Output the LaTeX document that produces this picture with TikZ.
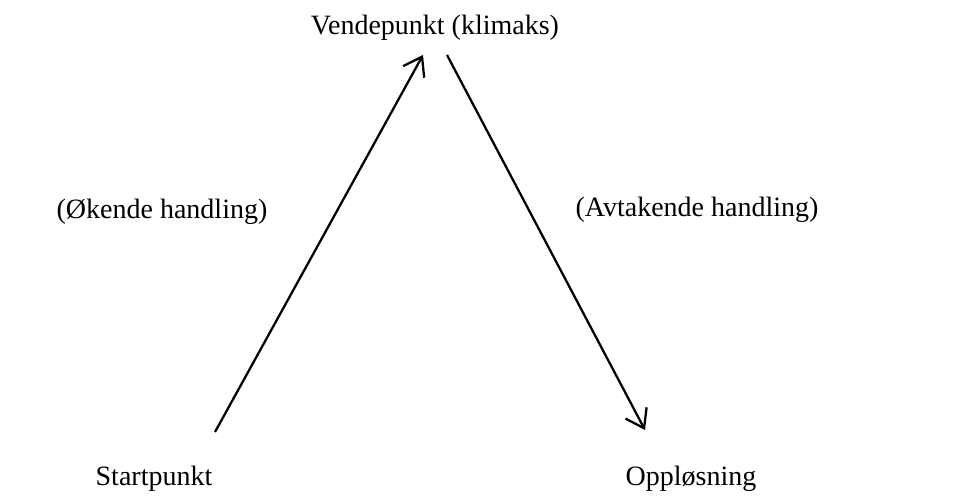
\documentclass[tikz,border=0pt]{standalone}
\usepackage{fontspec}
\setmainfont{Liberation Serif}
\usetikzlibrary{arrows.meta}
\begin{document}
\begin{tikzpicture}[x=0.75pt,y=-0.75pt,
  lbl/.style={inner sep=0pt,font=\fontsize{21}{25}\selectfont},
  arr/.style={line width=1.7pt,-{Straight Barb[length=13pt,width=18pt,line width=1.7pt]}}]
\useasboundingbox (0,0) rectangle (955,502);
\node[lbl] (top) at (435,28) {Vendepunkt (klimaks)};
\node[lbl] (inc) at (162,212) {(Økende handling)};
\node[lbl] (dec) at (697,210) {(Avtakende handling)};
\node[lbl] (start) at (154,479) {Startpunkt};
\node[lbl] (end) at (691,479) {Oppløsning};
\coordinate (a0) at (215,432);
\coordinate (a1) at (423,55);
\coordinate (b0) at (447,55);
\coordinate (b1) at (645,430);
\draw[arr] (a0) -- (a1);
\draw[arr] (b0) -- (b1);
\end{tikzpicture}
\end{document}
